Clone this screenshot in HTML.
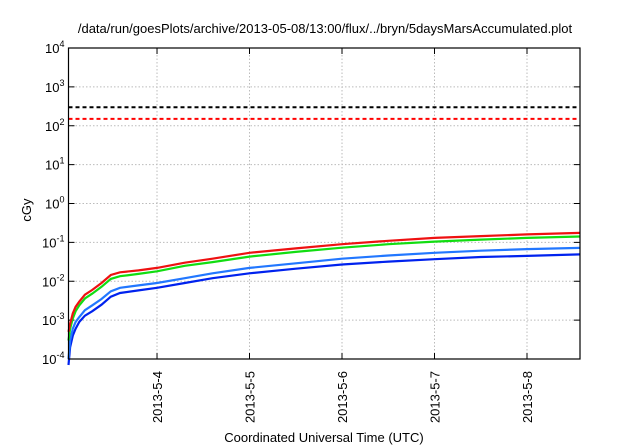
<!DOCTYPE html>
<html><head><meta charset="utf-8"><style>
body{margin:0;background:#fff;}
svg{display:block;font-family:"Liberation Sans",sans-serif;}
</style></head><body>
<svg id="chart" width="640" height="448" viewBox="0 0 640 448">
<text x="325" y="33" font-size="13" text-anchor="middle" fill="#000">/data/run/goesPlots/archive/2013-05-08/13:00/flux/../bryn/5daysMarsAccumulated.plot</text>
<g id="grid"></g><g id="axes"></g><g id="series"></g>
<rect x="68.5" y="48" width="511.5" height="311" fill="none" stroke="#000" stroke-width="1.2"/>
<text transform="translate(31,210) rotate(-90)" font-size="13" text-anchor="middle">cGy</text>
<text x="324" y="442" font-size="13" text-anchor="middle">Coordinated Universal Time (UTC)</text>
</svg>
<script>
const xTicks=[1,2,3,4,5];
const xTickLabels=["2013-5-4","2013-5-5","2013-5-6","2013-5-7","2013-5-8"];
const yExps=[-4,-3,-2,-1,0,1,2,3,4];
const thresholds=[300,150];
const times=[0.043,0.06,0.09,0.12,0.16,0.22,0.3,0.4,0.5,0.6,0.8,1.0,1.3,1.6,2.0,2.5,3.0,3.5,4.0,4.5,5.0,5.573];
const redVals=[0.0005,0.0008,0.0015,0.0022,0.003,0.0045,0.006,0.009,0.0145,0.017,0.019,0.022,0.03,0.038,0.054,0.07,0.09,0.11,0.13,0.145,0.16,0.175];
const greenVals=[0.0003,0.0006,0.0011,0.0017,0.0024,0.0036,0.0048,0.0072,0.0115,0.0135,0.0155,0.018,0.025,0.031,0.043,0.057,0.073,0.09,0.105,0.118,0.13,0.142];
const lightBlueVals=[0.0001,0.0003,0.0006,0.0009,0.0012,0.0018,0.0024,0.0035,0.0055,0.0068,0.0078,0.009,0.012,0.016,0.022,0.029,0.038,0.046,0.054,0.061,0.067,0.072];
const darkBlueVals=[0.00007,0.0002,0.0004,0.0006,0.0009,0.0013,0.0017,0.0025,0.004,0.005,0.0058,0.0068,0.009,0.012,0.016,0.021,0.027,0.032,0.037,0.042,0.045,0.049];
const X0=68.5,X1=580,Y0=48,Y1=359,xmin=0.043,xmax=5.573;
function xs(t){return X0+(t-xmin)/(xmax-xmin)*(X1-X0);}
function ys(v){return Y0+(4-Math.log10(v))/8*(Y1-Y0);}
const NS="http://www.w3.org/2000/svg";
function mk(tag,attrs,parent){const e=document.createElementNS(NS,tag);for(const k in attrs)e.setAttribute(k,attrs[k]);parent.appendChild(e);return e;}
const grid=document.getElementById('grid'),axes=document.getElementById('axes'),ser=document.getElementById('series');
yExps.forEach(p=>{const y=ys(Math.pow(10,p));
 if(p>-4&&p<4){const g=mk('line',{x1:X0,x2:X1,y1:y,y2:y,stroke:'#bbb','stroke-dasharray':'1.5,2','stroke-width':1},grid);
 
 }
 const tl=mk('line',{x1:X0,x2:X0+6,y1:y,y2:y,stroke:'#000'},axes);
 
 
 const tr=mk('line',{x1:X1-6,x2:X1,y1:y,y2:y,stroke:'#000'},axes);
 
 
 const t=mk('text',{x:X0-4,y:y+5,'font-size':13,'text-anchor':'end'},axes);
 
 
 t.textContent='10';const s=mk('tspan',{dy:-6,'font-size':9},t);s.textContent=String(p);
});
xTicks.forEach((d,i)=>{const x=xs(d);
 const g=mk('line',{x1:x,x2:x,y1:Y0,y2:Y1,stroke:'#bbb','stroke-dasharray':'1.5,2'},grid);
 
 
 const tk=mk('line',{x1:x,x2:x,y1:Y1-6,y2:Y1,stroke:'#000'},axes);
 
 
 const tt=mk('line',{x1:x,x2:x,y1:Y0,y2:Y0+6,stroke:'#000'},axes);
 
 
 const t=mk('text',{transform:`translate(${x+5},${Y1+12}) rotate(-90)`,'font-size':13,'text-anchor':'end'},axes);
 
 
 t.textContent=xTickLabels[i];
});
const thColors=['#000','#f00'];
thresholds.forEach((v,i)=>{const y=ys(v);
 const l=mk('line',{x1:X0,x2:X1,y1:y,y2:y,stroke:thColors[i],'stroke-width':2,'stroke-dasharray':'4,3'},ser);
 
 
});
[[darkBlueVals,'#0022ee','dark-blue-series'],[lightBlueVals,'#2277ff','light-blue-series'],[greenVals,'#11dd11','green-series'],[redVals,'#ee1111','red-series']].forEach(([vals,c,n])=>{
 const pts=times.map((t,i)=>xs(t).toFixed(1)+','+ys(vals[i]).toFixed(1)).join(' ');
 const p=mk('polyline',{points:pts,fill:'none',stroke:c,'stroke-width':2.2},ser);
 
 
});
</script>
</body></html>
